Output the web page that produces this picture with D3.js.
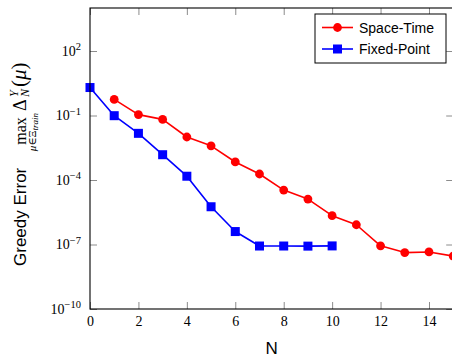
<!DOCTYPE html>
<html>
<head>
<meta charset="utf-8">
<script src="https://cdn.jsdelivr.net/npm/d3@7"></script>
<style>
  body { margin: 0; background: #fff; }
  svg { display: block; }
</style>
</head>
<body>
<div id="chart"></div>
<script>
/* Data */
const nSpaceTime = [1, 2, 3, 4, 5, 6, 7, 8, 9, 10, 11, 12, 13, 14, 15];
const errSpaceTime = [0.56, 0.11, 0.066, 0.01, 3.9e-3, 6.9e-4, 1.9e-4, 3.4e-5, 1.3e-5, 2.2e-6, 8.3e-7, 8.7e-8, 4.2e-8, 4.5e-8, 2.9e-8];
const nFixedPoint = [0, 1, 2, 3, 4, 5, 6, 7, 8, 9, 10];
const errFixedPoint = [2.0, 0.098, 0.0148, 1.5e-3, 1.5e-4, 5.7e-6, 4.0e-7, 8.5e-8, 8.5e-8, 8.4e-8, 8.6e-8];
const seriesNames = ['Space-Time', 'Fixed-Point'];
const xTicks = [0, 2, 4, 6, 8, 10, 12, 14];
const yTickExponents = [-10, -7, -4, -1, 2];

/* Local Constants */
const WIDTH = 452;
const HEIGHT = 358;
const SERIF = '"Liberation Serif", "DejaVu Serif", serif';
const SANS = '"Liberation Sans", Arial, sans-serif';
const TICK_LEN = 7;
const RED = '#ff0000';
const BLUE = '#0000ff';

const plot = { left: 90, right: 453.2, top: 8, bottom: 309 };

const svg = d3.select('#chart')
  .append('svg')
  .attr('width', WIDTH)
  .attr('height', HEIGHT);

const x = d3.scaleLinear().domain([0, 15]).range([plot.left, plot.right]);
const y = d3.scaleLog().domain([1e-10, 1e4]).range([plot.bottom, plot.top]);

drawAxes();
drawSeries(nSpaceTime, errSpaceTime, RED, 'circle');
drawSeries(nFixedPoint, errFixedPoint, BLUE, 'square');
drawFrame();
drawLegend();
drawYLabel();
drawXLabel();

function styleTicks (g) {
  g.select('.domain').remove();
  g.selectAll('.tick line').attr('stroke', '#8c8c8c').attr('stroke-width', 1);
}

function drawAxes () {
  const yTicks = yTickExponents.map(e => Math.pow(10, e));

  svg.append('g')
    .attr('transform', `translate(0,${plot.bottom})`)
    .call(d3.axisBottom(x).tickValues(xTicks).tickSizeInner(-TICK_LEN).tickSizeOuter(0).tickPadding(7.5))
    .call(styleTicks)
    .call(g => g.selectAll('.tick text')
      .attr('fill', '#000')
      .style('font-family', SERIF)
      .style('font-size', '14px'));

  svg.append('g')
    .attr('transform', `translate(0,${plot.top})`)
    .call(d3.axisTop(x).tickValues(xTicks).tickSizeInner(-TICK_LEN).tickSizeOuter(0).tickFormat(''))
    .call(styleTicks);

  const left = svg.append('g')
    .attr('transform', `translate(${plot.left},0)`)
    .call(d3.axisLeft(y).tickValues(yTicks).tickSizeInner(-TICK_LEN).tickSizeOuter(0).tickPadding(9))
    .call(styleTicks);

  left.selectAll('.tick text')
    .attr('fill', '#000')
    .style('font-family', SERIF)
    .style('font-size', '14px')
    .each(function (d) {
      const t = d3.select(this).text('');
      const e = Math.round(Math.log10(d));
      t.append('tspan').text('10');
      t.append('tspan')
        .attr('dy', '-5.5')
        .style('font-size', '10.5px')
        .text(e < 0 ? '\u2212' + (-e) : String(e));
    });

  svg.append('g')
    .attr('transform', `translate(${plot.right},0)`)
    .call(d3.axisRight(y).tickValues(yTicks).tickSizeInner(-TICK_LEN).tickSizeOuter(0).tickFormat(''))
    .call(styleTicks);
}

function drawFrame () {
  svg.append('rect')
    .attr('x', plot.left)
    .attr('y', plot.top)
    .attr('width', plot.right - plot.left)
    .attr('height', plot.bottom - plot.top)
    .attr('fill', 'none')
    .attr('stroke', '#000')
    .attr('stroke-width', 1.1);
}

function drawMarker (g, shape, cx, cy, color) {
  if (shape === 'circle') {
    g.append('circle').attr('cx', cx).attr('cy', cy).attr('r', 4.4).attr('fill', color);
  } else {
    g.append('rect').attr('x', cx - 4.5).attr('y', cy - 4.5).attr('width', 9).attr('height', 9).attr('fill', color);
  }
}

function drawSeries (ns, errs, color, shape) {
  const pts = ns.map((n, i) => ({ n, e: errs[i] }));
  const g = svg.append('g');

  const line = d3.line().x(d => x(d.n)).y(d => y(d.e));
  g.append('path')
    .datum(pts)
    .attr('d', line)
    .attr('fill', 'none')
    .attr('stroke', color)
    .attr('stroke-width', 1.6)
    .attr('stroke-linejoin', 'round');

  pts.forEach(d => drawMarker(g, shape, x(d.n), y(d.e), color));
}

function drawLegend () {
  const box = { x: 315, y: 14, w: 131, h: 49 };
  const legend = svg.append('g');

  legend.append('rect')
    .attr('x', box.x)
    .attr('y', box.y)
    .attr('width', box.w)
    .attr('height', box.h)
    .attr('fill', '#fff')
    .attr('stroke', '#000')
    .attr('stroke-width', 1);

  const rows = [
    { name: seriesNames[0], color: RED, shape: 'circle', cy: 27.5 },
    { name: seriesNames[1], color: BLUE, shape: 'square', cy: 49 }
  ];

  rows.forEach(r => {
    legend.append('line')
      .attr('x1', 322).attr('x2', 353)
      .attr('y1', r.cy).attr('y2', r.cy)
      .attr('stroke', r.color)
      .attr('stroke-width', 1.6);
    drawMarker(legend, r.shape, 337.5, r.cy, r.color);
    legend.append('text')
      .attr('x', 359)
      .attr('y', r.cy + 5)
      .style('font-family', SANS)
      .style('font-size', '14px')
      .attr('fill', '#000')
      .text(r.name);
  });
}

// rotated text reading upward, baseline at screen x = bx, starting at screen y = sy
function vtext (g, bx, sy, str, font, size, italic, anchor = 'start') {
  return g.append('text')
    .attr('transform', `translate(${bx},${sy}) rotate(-90)`)
    .attr('text-anchor', anchor)
    .style('font-family', font)
    .style('font-size', size + 'px')
    .style('font-style', italic ? 'italic' : 'normal')
    .attr('fill', '#000')
    .text(str);
}

function drawYLabel () {
  const g = svg.append('g');
  const base = 25.5;
  vtext(g, base, 266, 'Greedy Error', SANS, 17, false);
  vtext(g, base, 131, 'max', SERIF, 16, false, 'middle');
  const sub = vtext(g, base + 10.5, 132, '', SERIF, 11, false, 'middle');
  sub.append('tspan').style('font-style', 'italic').text('\u03bc');
  sub.append('tspan').text('\u2208\u039e');
  sub.append('tspan').style('font-style', 'italic').attr('dy', 2).style('font-size', '9px').text('train');
  vtext(g, base, 111, '\u0394', SERIF, 18, false);
  vtext(g, base - 8, 97, 'Y', SERIF, 12, true);
  vtext(g, base + 3.5, 97, 'N', SERIF, 12, true);
  const mu = vtext(g, base, 87, '(', SERIF, 21, false);
  mu.append('tspan').style('font-style', 'italic').text('\u03bc');
  mu.append('tspan').text(')');
}

function drawXLabel () {
  svg.append('text')
    .attr('x', (plot.left + plot.right) / 2)
    .attr('y', 354)
    .attr('text-anchor', 'middle')
    .style('font-family', SANS)
    .style('font-size', '17px')
    .attr('fill', '#000')
    .text('N');
}
</script>
</body>
</html>
